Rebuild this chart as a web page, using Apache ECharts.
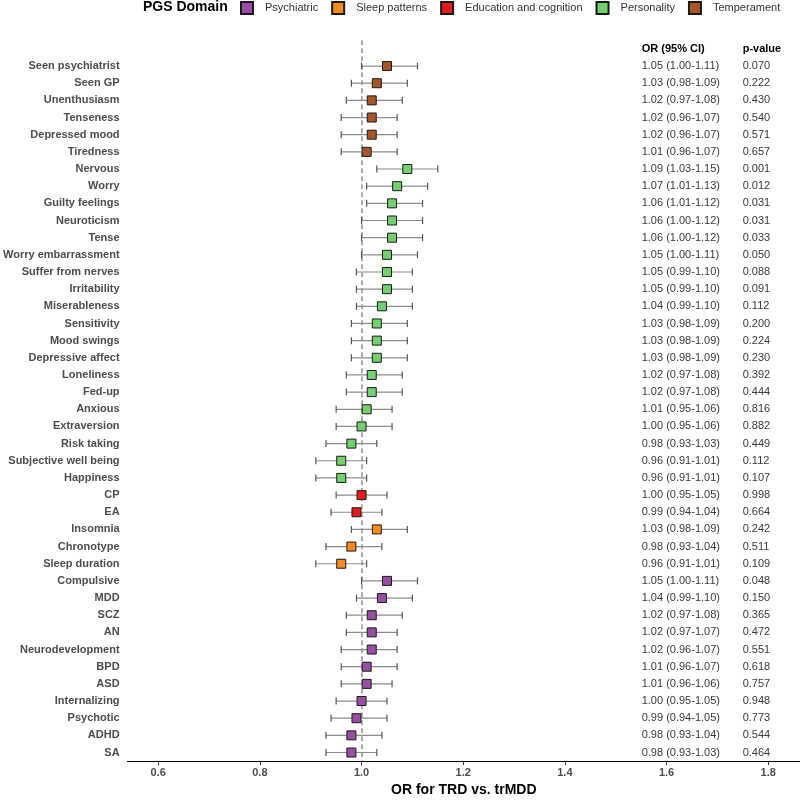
<!DOCTYPE html>
<html>
<head>
<meta charset="utf-8">
<script src="https://cdn.jsdelivr.net/npm/echarts@6/dist/echarts.min.js"></script>
<style>
  html, body { margin: 0; padding: 0; background: #fff; }
  #forest { width: 800px; height: 802px; }
</style>
</head>
<body>
<div id="forest"></div>
<script>
var names = ['Seen psychiatrist', 'Seen GP', 'Unenthusiasm', 'Tenseness', 'Depressed mood', 'Tiredness',
  'Nervous', 'Worry', 'Guilty feelings', 'Neuroticism', 'Tense', 'Worry embarrassment', 'Suffer from nerves',
  'Irritability', 'Miserableness', 'Sensitivity', 'Mood swings', 'Depressive affect', 'Loneliness', 'Fed-up',
  'Anxious', 'Extraversion', 'Risk taking', 'Subjective well being', 'Happiness',
  'CP', 'EA',
  'Insomnia', 'Chronotype', 'Sleep duration',
  'Compulsive', 'MDD', 'SCZ', 'AN', 'Neurodevelopment', 'BPD', 'ASD', 'Internalizing', 'Psychotic', 'ADHD', 'SA'];
var domain = ['Temperament', 'Temperament', 'Temperament', 'Temperament', 'Temperament', 'Temperament',
  'Personality', 'Personality', 'Personality', 'Personality', 'Personality', 'Personality', 'Personality',
  'Personality', 'Personality', 'Personality', 'Personality', 'Personality', 'Personality', 'Personality',
  'Personality', 'Personality', 'Personality', 'Personality', 'Personality',
  'Education and cognition', 'Education and cognition',
  'Sleep patterns', 'Sleep patterns', 'Sleep patterns',
  'Psychiatric', 'Psychiatric', 'Psychiatric', 'Psychiatric', 'Psychiatric', 'Psychiatric', 'Psychiatric',
  'Psychiatric', 'Psychiatric', 'Psychiatric', 'Psychiatric'];
var orVal = [1.05, 1.03, 1.02, 1.02, 1.02, 1.01,
  1.09, 1.07, 1.06, 1.06, 1.06, 1.05, 1.05, 1.05, 1.04, 1.03, 1.03, 1.03, 1.02, 1.02, 1.01, 1.00, 0.98, 0.96, 0.96,
  1.00, 0.99,
  1.03, 0.98, 0.96,
  1.05, 1.04, 1.02, 1.02, 1.02, 1.01, 1.01, 1.00, 0.99, 0.98, 0.98];
var ciLow = [1.00, 0.98, 0.97, 0.96, 0.96, 0.96,
  1.03, 1.01, 1.01, 1.00, 1.00, 1.00, 0.99, 0.99, 0.99, 0.98, 0.98, 0.98, 0.97, 0.97, 0.95, 0.95, 0.93, 0.91, 0.91,
  0.95, 0.94,
  0.98, 0.93, 0.91,
  1.00, 0.99, 0.97, 0.97, 0.96, 0.96, 0.96, 0.95, 0.94, 0.93, 0.93];
var ciHigh = [1.11, 1.09, 1.08, 1.07, 1.07, 1.07,
  1.15, 1.13, 1.12, 1.12, 1.12, 1.11, 1.10, 1.10, 1.10, 1.09, 1.09, 1.09, 1.08, 1.08, 1.06, 1.06, 1.03, 1.01, 1.01,
  1.05, 1.04,
  1.09, 1.04, 1.01,
  1.11, 1.10, 1.08, 1.07, 1.07, 1.07, 1.06, 1.05, 1.05, 1.04, 1.03];
var pVal = ['0.070', '0.222', '0.430', '0.540', '0.571', '0.657',
  '0.001', '0.012', '0.031', '0.031', '0.033', '0.050', '0.088', '0.091', '0.112', '0.200', '0.224', '0.230',
  '0.392', '0.444', '0.816', '0.882', '0.449', '0.112', '0.107',
  '0.998', '0.664',
  '0.242', '0.511', '0.109',
  '0.048', '0.150', '0.365', '0.472', '0.551', '0.618', '0.757', '0.948', '0.773', '0.544', '0.464'];
var domains = ['Psychiatric', 'Sleep patterns', 'Education and cognition', 'Personality', 'Temperament'];
var domainColors = ['#984EA3', '#F58A1F', '#E41A1C', '#73CF70', '#A65628'];
var xTicks = [0.6, 0.8, 1.0, 1.2, 1.4, 1.6, 1.8];

var FONT = 'Liberation Sans';
// row 0 is the header row of the table
var cats = [''].concat(names);
var ciText = names.map(function (n, i) {
  return orVal[i].toFixed(2) + ' (' + ciLow[i].toFixed(2) + '-' + ciHigh[i].toFixed(2) + ')';
});

var chart = echarts.init(document.getElementById('forest'));

var series = [{
  type: 'custom',
  name: 'ci',
  z: 2,
  xAxisIndex: 0,
  yAxisIndex: 0,
  encode: { x: 0, y: 1 },
  data: names.map(function (n, i) { return [ciLow[i], i + 1, ciHigh[i]]; }),
  renderItem: function (params, api) {
    var a = api.coord([api.value(0), api.value(1)]);
    var b = api.coord([api.value(2), api.value(1)]);
    var h = 3.5;
    return {
      type: 'group',
      children: [
        { type: 'line', shape: { x1: a[0], y1: a[1], x2: b[0], y2: b[1] }, style: { stroke: '#8c8c8c', lineWidth: 1.2 } },
        { type: 'line', shape: { x1: a[0], y1: a[1] - h, x2: a[0], y2: a[1] + h }, style: { stroke: '#555', lineWidth: 1.2 } },
        { type: 'line', shape: { x1: b[0], y1: b[1] - h, x2: b[0], y2: b[1] + h }, style: { stroke: '#555', lineWidth: 1.2 } }
      ]
    };
  }
}];

domains.forEach(function (d, k) {
  var pts = [];
  names.forEach(function (n, i) {
    if (domain[i] === d) pts.push([orVal[i], i + 1]);
  });
  var s = {
    type: 'scatter',
    name: d,
    z: 3,
    xAxisIndex: 0,
    yAxisIndex: 0,
    symbol: 'rect',
    symbolSize: 9,
    itemStyle: { color: domainColors[k], borderColor: '#1a1a1a', borderWidth: 1, opacity: 1 },
    data: pts
  };
  if (k === 0) {
    s.markLine = {
      silent: true,
      symbol: 'none',
      z: 1,
      label: { show: false },
      lineStyle: { color: '#999', type: [5, 3], width: 1.6 },
      data: [{ xAxis: 1 }]
    };
  }
  series.push(s);
});

var option = {
  animation: false,
  textStyle: { fontFamily: FONT },
  graphic: [{
    type: 'text',
    left: 143,
    top: 0,
    style: { text: 'PGS Domain', font: 'bold 14px "Liberation Sans"', fill: '#000' }
  }],
  legend: {
    left: 240,
    top: 1,
    padding: 0,
    data: domains,
    icon: 'rect',
    itemWidth: 12,
    itemHeight: 12,
    itemGap: 13,
    textStyle: { fontSize: 11, color: '#333', padding: [0, 0, 0, 7] }
  },
  grid: { left: 126.7, right: 0, top: 40.3, bottom: 31.5, containLabel: false },
  xAxis: {
    type: 'value',
    position: 'bottom',
    min: 0.5397,
    max: 1.8625,
    splitLine: { show: false },
    axisLine: { show: true, onZero: false, lineStyle: { color: '#000', width: 1.2 } },
    axisTick: { show: true, customValues: xTicks, length: 4, lineStyle: { color: '#333' } },
    axisLabel: {
      customValues: xTicks,
      formatter: function (v) { return v.toFixed(1); },
      fontWeight: 'bold', fontSize: 11, color: '#4d4d4d', margin: 6
    },
    name: 'OR for TRD vs. trMDD',
    nameLocation: 'middle',
    nameGap: 12,
    nameTextStyle: { fontWeight: 'bold', fontSize: 14, color: '#000' }
  },
  yAxis: [{
    type: 'category',
    inverse: true,
    data: cats,
    axisLine: { show: false },
    axisTick: { show: false },
    splitLine: { show: false },
    axisLabel: { fontWeight: 'bold', fontSize: 11, color: '#4d4d4d', margin: 8 }
  }, {
    type: 'category',
    inverse: true,
    position: 'right',
    data: cats,
    axisLine: { show: false },
    axisTick: { show: false },
    splitLine: { show: false },
    axisLabel: {
      inside: true, align: 'left', margin: 158.3, fontSize: 11, color: '#3a3a3a',
      formatter: function (v, i) { return i === 0 ? '{h|OR (95% CI)}' : ciText[i - 1]; },
      rich: { h: { fontWeight: 'bold', fontSize: 11, color: '#000' } }
    }
  }, {
    type: 'category',
    inverse: true,
    position: 'right',
    data: cats,
    axisLine: { show: false },
    axisTick: { show: false },
    splitLine: { show: false },
    axisLabel: {
      inside: true, align: 'left', margin: 57.3, fontSize: 11, color: '#3a3a3a',
      formatter: function (v, i) { return i === 0 ? '{h|p-value}' : pVal[i - 1]; },
      rich: { h: { fontWeight: 'bold', fontSize: 11, color: '#000' } }
    }
  }],
  series: series
};
chart.setOption(option);
window.addEventListener('resize', function () {
  chart.resize();
});
</script>
</body>
</html>
